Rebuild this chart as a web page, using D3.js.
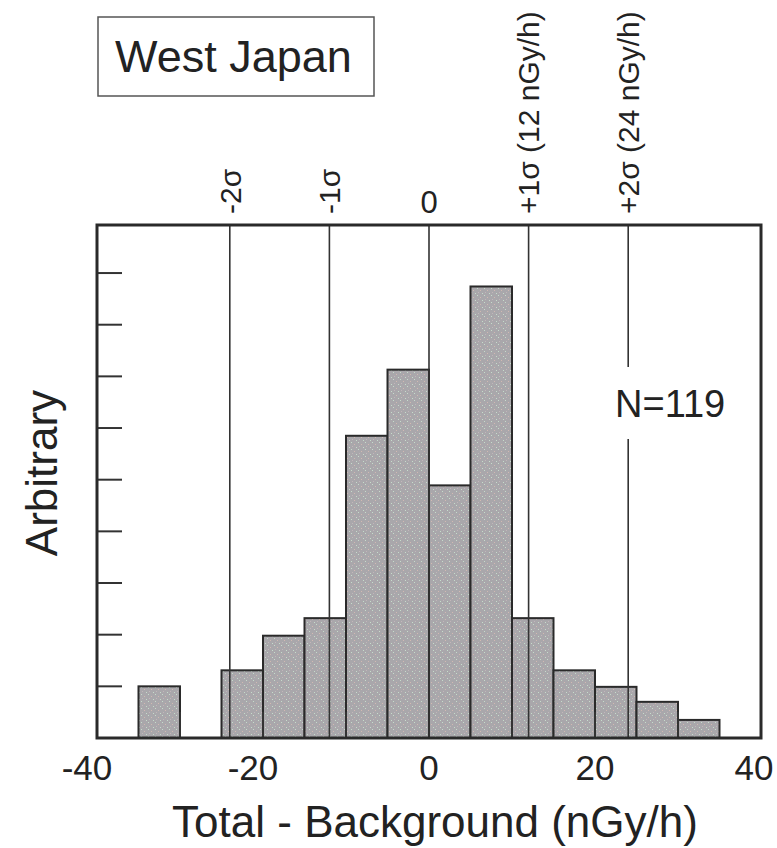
<!DOCTYPE html>
<html>
<head>
<meta charset="utf-8">
<script src="https://cdn.jsdelivr.net/npm/d3@7"></script>
<style>
  body { margin: 0; background: #fff; }
  text { font-family: "Liberation Sans", Arial, sans-serif; fill: #222; }
</style>
</head>
<body>
<div id="chartArea"></div>
<script>
const margin = {top: 225, right: 16, bottom: 110, left: 97};
const w = 777;
const h = 848;

// histogram bins (nGy/h), width 5
const binStarts = [-35, -30, -25, -20, -15, -10, -5, 0, 5, 10, 15, 20, 25, 30];
const binWidth = 5;
// bar heights (arbitrary units)
const heights = [1.0, 0, 1.31, 1.98, 2.32, 5.85, 7.13, 4.89, 8.74, 2.32, 1.31, 0.99, 0.70, 0.35];

const sigmaPos = [-24, -12, 0, 12, 24];
const sigmaLabels = ["-2σ", "-1σ", "0", "+1σ (12 nGy/h)", "+2σ (24 nGy/h)"];

const xTicks = [-40, -20, 0, 20, 40];
const xMinorTicks = [-30, -20, -10, 10, 20, 30];
const yTicks = [1, 2, 3, 4, 5, 6, 7, 8, 9];

const svg = d3.select("#chartArea")
    .append("svg")
    .attr("width", w)
    .attr("height", h);

// stippled grey fill
const defs = svg.append("defs");
const pat = defs.append("pattern")
    .attr("id", "stipple")
    .attr("patternUnits", "userSpaceOnUse")
    .attr("width", 7)
    .attr("height", 7);
pat.append("rect").attr("width", 7).attr("height", 7).attr("fill", "#a9a7ab");
pat.append("rect").attr("x", 1).attr("y", 1).attr("width", 1).attr("height", 1).attr("fill", "#c6dccb");
pat.append("rect").attr("x", 4).attr("y", 3).attr("width", 1).attr("height", 1).attr("fill", "#d2b9b2");
pat.append("rect").attr("x", 2).attr("y", 5).attr("width", 1).attr("height", 1).attr("fill", "#c2b6ba");
pat.append("rect").attr("x", 6).attr("y", 6).attr("width", 1).attr("height", 1).attr("fill", "#c6dccb");

let x = d3.scaleLinear()
    .domain([-40, 40])
    .range([margin.left, w - margin.right]);

let y = d3.scaleLinear()
    .domain([0, 9.93])
    .range([h - margin.bottom, margin.top]);

// bars
svg.selectAll("rect.bar")
    .data(heights)
    .enter()
    .append("rect")
    .attr("class", "bar")
    .attr("x", (d, i) => x(binStarts[i]))
    .attr("y", d => y(d))
    .attr("width", x(binWidth) - x(0))
    .attr("height", d => y(0) - y(d))
    .attr("fill", "url(#stipple)")
    .attr("stroke", "#2a2a2a")
    .attr("stroke-width", d => d > 0 ? 2 : 0);

// y ticks, inside on the left
svg.append("g")
    .selectAll("line")
    .data(yTicks)
    .enter()
    .append("line")
    .attr("x1", margin.left)
    .attr("x2", margin.left + 25)
    .attr("y1", d => y(d))
    .attr("y2", d => y(d))
    .attr("stroke", "#333")
    .attr("stroke-width", 2);

// x ticks, inside at the bottom
svg.append("g")
    .selectAll("line")
    .data(xMinorTicks)
    .enter()
    .append("line")
    .attr("x1", d => x(d))
    .attr("x2", d => x(d))
    .attr("y1", y(0))
    .attr("y2", y(0) - 26)
    .attr("stroke", "#333")
    .attr("stroke-width", 2);

// sigma lines
svg.append("g")
    .selectAll("line")
    .data(sigmaPos)
    .enter()
    .append("line")
    .attr("x1", d => x(d))
    .attr("x2", d => x(d))
    .attr("y1", y(0))
    .attr("y2", margin.top)
    .attr("stroke", "#333")
    .attr("stroke-width", 1.6);

// N=119 with a gap in the +2σ line
const nText = svg.append("text")
    .attr("x", 615)
    .attr("y", 417)
    .attr("font-size", 38)
    .text("N=119");
const bb = nText.node().getBBox();
svg.insert("rect", "text")
    .attr("x", x(24) - 3)
    .attr("y", bb.y - 16)
    .attr("width", 6)
    .attr("height", bb.height + 30)
    .attr("fill", "#fff");

// frame
svg.append("rect")
    .attr("x", margin.left)
    .attr("y", margin.top)
    .attr("width", w - margin.right - margin.left)
    .attr("height", h - margin.bottom - margin.top)
    .attr("fill", "none")
    .attr("stroke", "#2a2a2a")
    .attr("stroke-width", 3);

// sigma labels on top
sigmaPos.forEach((p, i) => {
    if (p === 0) {
        svg.append("text")
            .attr("x", x(p))
            .attr("y", 213)
            .attr("text-anchor", "middle")
            .attr("font-size", 31)
            .text(sigmaLabels[i]);
    } else {
        svg.append("text")
            .attr("transform", `translate(${x(p)},214) rotate(-90)`)
            .attr("dy", "0.36em")
            .attr("font-size", 30)
            .text(sigmaLabels[i]);
    }
});

// x tick labels (minus sign hangs left, last one pulled inside)
svg.append("g")
    .selectAll("text")
    .data(xTicks)
    .enter()
    .append("text")
    .attr("x", d => x(d) + (d < 0 ? -10 : (d === 40 ? -7 : 0)))
    .attr("y", 780)
    .attr("text-anchor", "middle")
    .attr("font-size", 35)
    .text(d => d);

// axis titles
svg.append("text")
    .attr("x", 435)
    .attr("y", 837)
    .attr("text-anchor", "middle")
    .attr("font-size", 44)
    .text("Total - Background (nGy/h)");

svg.append("text")
    .attr("transform", "translate(57,473) rotate(-90)")
    .attr("text-anchor", "middle")
    .attr("font-size", 44)
    .text("Arbitrary");

// region label box
svg.append("rect")
    .attr("x", 98)
    .attr("y", 17)
    .attr("width", 276)
    .attr("height", 79)
    .attr("fill", "none")
    .attr("stroke", "#555")
    .attr("stroke-width", 1.5);

svg.append("text")
    .attr("x", 115)
    .attr("y", 72)
    .attr("font-size", 45)
    .text("West Japan");
</script>
</body>
</html>
